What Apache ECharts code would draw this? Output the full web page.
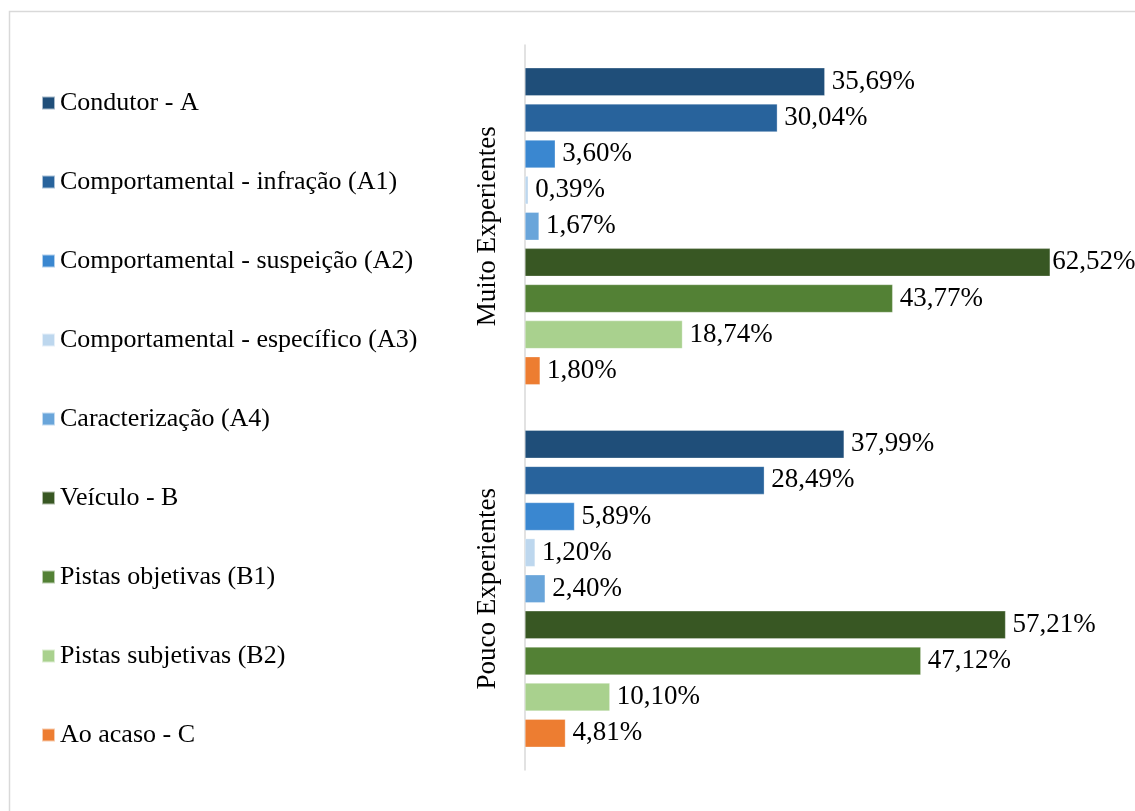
<!DOCTYPE html>
<html>
<head>
<meta charset="utf-8">
<script src="https://cdn.jsdelivr.net/npm/echarts@6/dist/echarts.min.js"></script>
<style>
  html, body { margin: 0; padding: 0; background: #fff; }
  #chart { width: 1135px; height: 811px; }
</style>
</head>
<body>
<div id="chart"></div>
<script>
var myChart = echarts.init(document.getElementById('chart'));

var groups = ['Muito Experientes', 'Pouco Experientes'];
var seriesNames = [
    'Condutor - A',
    'Comportamental - infração (A1)',
    'Comportamental - suspeição (A2)',
    'Comportamental - específico (A3)',
    'Caracterização (A4)',
    'Veículo - B',
    'Pistas objetivas (B1)',
    'Pistas subjetivas (B2)',
    'Ao acaso - C'
];
// one row per series: [Muito, Pouco]
var condutor = [35.69, 37.99];
var infracao = [30.04, 28.49];
var suspeicao = [3.60, 5.89];
var especifico = [0.39, 1.20];
var caracterizacao = [1.67, 2.40];
var veiculo = [62.52, 57.21];
var objetivas = [43.77, 47.12];
var subjetivas = [18.74, 10.10];
var acaso = [1.80, 4.81];

var values = [condutor, infracao, suspeicao, especifico, caracterizacao,
    veiculo, objetivas, subjetivas, acaso];
var colors = ['#1F4E79', '#28639C', '#3A87D0', '#BDD7EE', '#69A5DA',
    '#385723', '#538135', '#A9D18E', '#ED7D31'];

var font = 'Liberation Serif';

var series = seriesNames.map(function (name, i) {
    return {
        name: name,
        type: 'bar',
        barWidth: 28,
        barGap: '29%',
        itemStyle: {
            color: colors[i],
            borderColor: 'rgba(255,255,255,0.6)',
            borderWidth: 0.5
        },
        label: {
            show: true,
            position: 'right',
            distance: 7,
            color: '#000',
            fontFamily: font,
            fontSize: 27,
            formatter: function (p) {
                return p.value.toFixed(2).replace('.', ',') + '%';
            }
        },
        data: values[i].map(function (v) {
            // long bar: label tucked close to the end, as in the original
            if (v > 60) {
                return { value: v, label: { distance: 2 } };
            }
            return v;
        })
    };
});

var option = {
    backgroundColor: '#fff',
    animation: false,
    graphic: [{
        type: 'rect',
        shape: { x: 9.5, y: 11.5, width: 1200, height: 900 },
        style: { fill: 'none', stroke: '#D9D9D9', lineWidth: 1.5 },
        silent: true
    }],
    legend: {
        orient: 'vertical',
        left: 36,
        top: 85,
        height: 720,
        itemWidth: 13,
        itemHeight: 13,
        itemGap: 53,
        icon: 'rect',
        textStyle: {
            fontFamily: font,
            fontSize: 26,
            lineHeight: 26,
            color: '#000'
        },
        data: seriesNames
    },
    grid: {
        left: 525,
        top: 45,
        width: 588,
        height: 725,
        containLabel: false
    },
    xAxis: {
        type: 'value',
        min: 0,
        max: 70,
        show: false
    },
    yAxis: {
        type: 'category',
        inverse: true,
        data: groups,
        axisLine: { lineStyle: { color: '#D9D9D9', width: 1.5 } },
        axisTick: { show: false },
        axisLabel: {
            rotate: 90,
            margin: 24,
            fontFamily: font,
            fontSize: 27,
            color: '#000'
        }
    },
    series: series
};
myChart.setOption(option);
</script>
</body>
</html>
